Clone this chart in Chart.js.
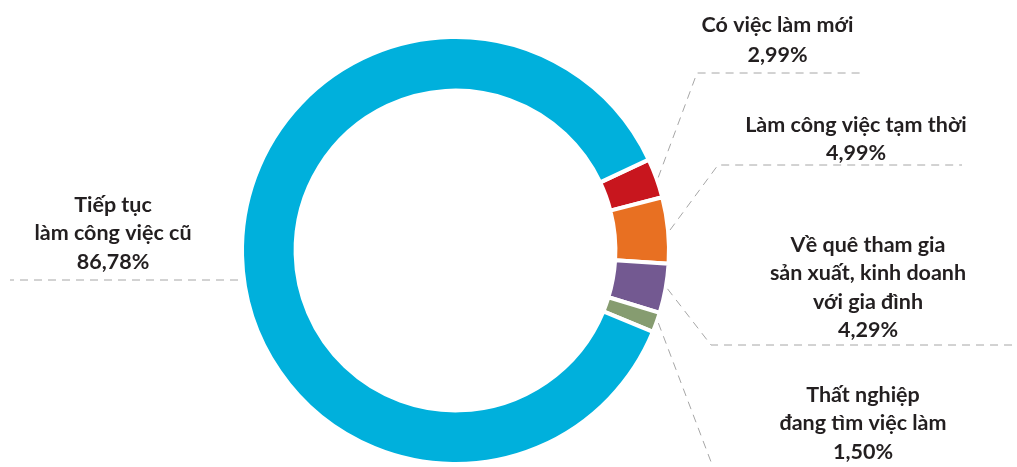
<!DOCTYPE html>
<html><head><meta charset="utf-8">
<script src="https://cdn.jsdelivr.net/npm/chart.js@4"></script>
<style>html,body{margin:0;padding:0;background:#fff;overflow:hidden}#wrap{position:relative;width:1017px;height:467px}</style>
</head><body><div id="wrap"><canvas id="c" width="1017" height="467"></canvas></div>
<script>
const categories = ["Có việc làm mới", "Làm công việc tạm thời", "Về quê tham gia sản xuất, kinh doanh với gia đình", "Thất nghiệp đang tìm việc làm", "Tiếp tục làm công việc cũ"];
const labelLines = [["Có việc làm mới"], ["Làm công việc tạm thời"], ["Về quê tham gia", "sản xuất, kinh doanh", "với gia đình"], ["Thất nghiệp", "đang tìm việc làm"], ["Tiếp tục", "làm công việc cũ"]];
const values = [2.99, 4.99, 3.74, 1.50, 86.78];
const valueLabels = ["2,99%", "4,99%", "4,29%", "1,50%", "86,78%"];
const colors = ["#c8161e", "#e87022", "#735991", "#869c70", "#00b0dc"];

// layout of annotations (text anchor + leader line path)
const labelLayout = [
  {x: 777.5, y: 32.3, lh: 29.4, path: [[697, 73], [864, 73]]},
  {x: 856, y: 131.7, lh: 28.5, path: [[718, 165], [962, 165]]},
  {x: 868, y: 251.7, lh: 28.5, path: [[711, 345], [1017, 345]]},
  {x: 863, y: 401.7, lh: 28.5, path: [[716, 475]]},
  {x: 113, y: 211.7, lh: 28.5, fixedStart: [238, 280], path: [[10, 280]]}
];

const labelPlugin = {
  id: 'calloutLabels',
  afterDatasetsDraw(chart) {
    const ctx = chart.ctx;
    const meta = chart.getDatasetMeta(0);
    ctx.save();
    meta.data.forEach((arc, i) => {
      const L = labelLayout[i];
      const p = arc.getProps(['x', 'y', 'startAngle', 'endAngle', 'outerRadius'], true);
      const mid = (p.startAngle + p.endAngle) / 2;
      const r = p.outerRadius + 2;
      const start = L.fixedStart || [p.x + Math.cos(mid) * r, p.y + Math.sin(mid) * r];
      ctx.beginPath();
      ctx.setLineDash([8, 6]);
      ctx.strokeStyle = '#a6a6a6';
      ctx.lineWidth = 1;
      ctx.moveTo(start[0], start[1]);
      L.path.forEach(pt => ctx.lineTo(pt[0], pt[1]));
      ctx.stroke();
      ctx.setLineDash([]);
      ctx.fillStyle = '#231f20';
      ctx.font = 'bold 21.5px Lato';
      ctx.textAlign = 'center';
      ctx.textBaseline = 'alphabetic';
      const lines = labelLines[i].concat([valueLabels[i]]);
      lines.forEach((t, k) => ctx.fillText(t, L.x, L.y + k * L.lh));
    });
    ctx.restore();
  }
};

new Chart(document.getElementById('c'), {
  type: 'doughnut',
  data: {
    labels: categories,
    datasets: [{
      data: values,
      backgroundColor: colors,
      borderColor: '#ffffff',
      borderWidth: 4,
      hoverOffset: 0
    }]
  },
  options: {
    responsive: false,
    animation: false,
    devicePixelRatio: 1,
    rotation: 64.8,
    radius: 213.5,
    cutout: '74.9%',
    layout: {padding: {left: 0, right: 106, top: 34, bottom: 0}},
    plugins: {legend: {display: false}, tooltip: {enabled: false}}
  },
  plugins: [labelPlugin]
});
</script></body></html>
